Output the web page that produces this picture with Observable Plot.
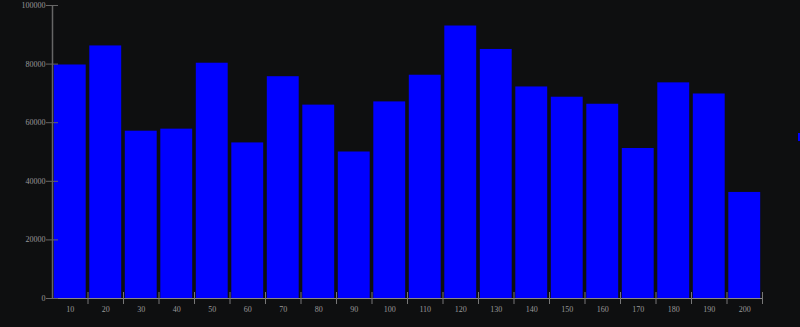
<!DOCTYPE html>
<html>
<head>
<meta charset="utf-8">
<script src="https://cdn.jsdelivr.net/npm/d3@7"></script>
<script src="https://cdn.jsdelivr.net/npm/@observablehq/plot@0.6"></script>
<style>
  html, body { margin: 0; padding: 0; background: #0e0f10; overflow: hidden; }
  #wrap { position: relative; width: 800px; height: 327px; overflow: hidden; }
  #legend { position: absolute; left: 798px; top: 133px; width: 8px; height: 8px; background: #0000ff; }
</style>
</head>
<body>
<div id="wrap"><div id="legend"></div></div>
<script>
const categories = [10, 20, 30, 40, 50, 60, 70, 80, 90, 100, 110, 120, 130, 140, 150, 160, 170, 180, 190, 200];
const values = [79700, 86200, 57100, 57800, 80300, 53100, 75700, 66000, 50000, 67100,
                76200, 93000, 85000, 72200, 68700, 66300, 51200, 73600, 69800, 36200];
const yTicks = [0, 20000, 40000, 60000, 80000, 100000];

const data = categories.map((c, i) => ({c, v: values[i]}));
const half = 5;
const edges = categories.map(c => c + half);

const chart = Plot.plot({
  width: 800,
  height: 327,
  marginLeft: 52,
  marginRight: 38,
  marginTop: 5,
  marginBottom: 29,
  style: {background: "#0e0f10", color: "#999", fontFamily: "'Liberation Serif', 'Times New Roman', serif", fontSize: "8px"},
  x: {type: "linear", domain: [categories[0] - half, categories[categories.length - 1] + half], label: null},
  y: {domain: [0, 100000], label: null},
  marks: [
    Plot.rectY(data, {x1: d => d.c - half, x2: d => d.c + half, y: "v", fill: "#0000ff", insetLeft: 1.8, insetRight: 1.8}),
    Plot.ruleX([categories[0] - half], {stroke: "#666", strokeWidth: 1.5}),
    Plot.ruleY([0], {stroke: "#888"}),
    Plot.axisY({ticks: yTicks, tickSize: 12, dx: 6, tickFormat: () => "", stroke: "#666", label: null}),
    Plot.axisY({ticks: yTicks, tickSize: 0, tickPadding: 7, tickFormat: d => String(d), fill: "#999", label: null}),
    Plot.axisX({ticks: edges, tickSize: 12, dy: -6, tickFormat: () => "", stroke: "#777", label: null}),
    Plot.axisX({ticks: categories, tickSize: 0, tickPadding: 8, tickFormat: d => String(d), fill: "#999", label: null})
  ]
});
chart.style.display = "block";
document.getElementById("wrap").prepend(chart);
</script>
</body>
</html>
